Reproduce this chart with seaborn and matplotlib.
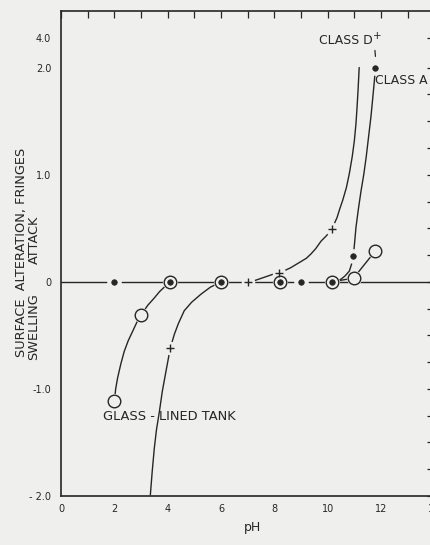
import numpy as np
import matplotlib
matplotlib.use("Agg")
import matplotlib.pyplot as plt
import seaborn as sns

# ---------------- data ----------------
# Class A: filled dots
classA_ph = [2.0, 4.1, 6.0, 8.2, 9.0, 10.16, 10.96, 11.79]
classA_val = [0.0, 0.0, 0.0, 0.0, 0.0, 0.0, 0.24, 2.0]
classA_curve_ph = [10.16, 10.35, 10.5, 10.65, 10.81, 10.9, 10.96, 11.01, 11.06, 11.15,
                   11.25, 11.35, 11.44, 11.53, 11.62, 11.69, 11.75, 11.79]
classA_curve_val = [0.0, 0.008, 0.025, 0.055, 0.10, 0.17, 0.24, 0.37, 0.51, 0.68,
                    0.85, 1.0, 1.16, 1.35, 1.54, 1.72, 1.88, 2.0]

# Class D: plus markers
classD_ph = [4.1, 7.0, 8.16, 10.15]
classD_val = [-0.615, 0.0, 0.08, 0.49]
classD_left_ph = [3.35, 3.42, 3.5, 3.58, 3.69, 3.8, 3.94, 4.1, 4.25, 4.4, 4.62,
                  4.9, 5.25, 5.6, 6.0]
classD_left_val = [-1.99, -1.77, -1.55, -1.38, -1.21, -1.02, -0.83, -0.615, -0.49,
                   -0.39, -0.27, -0.19, -0.115, -0.05, 0.0]
classD_right_ph = [7.0, 7.24, 7.94, 8.16, 8.6, 9.0, 9.2, 9.37, 9.55, 9.75, 9.95,
                   10.15, 10.25, 10.35, 10.45, 10.56, 10.7, 10.81, 10.92, 11.0,
                   11.06, 11.1, 11.14, 11.18]
classD_right_val = [0.0, 0.01, 0.07, 0.08, 0.13, 0.19, 0.22, 0.26, 0.31, 0.38, 0.43,
                    0.49, 0.545, 0.60, 0.68, 0.76, 0.88, 1.01, 1.17, 1.32,
                    1.48, 1.63, 1.8, 2.01]

# Glass-lined tank: open circles
glass_ph = [2.0, 3.0, 4.1, 6.0, 8.2, 10.16, 10.97, 11.79]
glass_val = [-1.115, -0.31, 0.0, 0.0, 0.0, 0.0, 0.035, 0.29]
glass_left_ph = [2.0, 2.05, 2.12, 2.24, 2.37, 2.52, 2.69, 2.84, 3.0, 3.25, 3.5,
                 3.7, 3.87, 4.0, 4.1]
glass_left_val = [-1.115, -1.0, -0.9, -0.77, -0.65, -0.55, -0.46, -0.38, -0.31,
                  -0.22, -0.15, -0.09, -0.05, -0.02, 0.0]
glass_right_ph = [10.16, 10.97, 11.79]
glass_right_val = [0.0, 0.035, 0.29]

baseline_ph = [0.0, 14.0]
baseline_val = [0.0, 0.0]

x_ticks = list(range(0, 15))
x_ticklabels = [str(v) if v % 2 == 0 else "" for v in x_ticks]
y_label_vals = [-2.0, -1.0, 0.0, 1.0, 2.0, 4.0]
y_label_text = ["- 2.0", "-1.0", "0", "1.0", "2.0", "4.0"]

# ---------------- style ----------------
sns.set_style("white")
plt.rcParams['font.family'] = ['DejaVu Sans']
BG = "#efefed"
INK = "#262626"

W, H = 431, 545
fig = plt.figure(figsize=(W / 100, H / 100), dpi=100, facecolor=BG)

def px(x, y):
    return x / W, 1 - y / H

ax = fig.add_axes([61 / W, 49 / H, 373.4 / W, 485 / H], facecolor=BG)

# broken (compressed) y scale above 2.0
K = 0.14
def fwd(y):
    y = np.asarray(y, dtype=float)
    return np.where(y <= 2, y, 2 + (y - 2) * K)
def inv(v):
    v = np.asarray(v, dtype=float)
    return np.where(v <= 2, v, 2 + (v - 2) / K)
ax.set_yscale("function", functions=(fwd, inv))
ax.set_xlim(0, 14)
ax.set_ylim(-2.0, 5.78)

# ---------------- lines ----------------
lkw = dict(color=INK, linewidth=1.0, sort=False, estimator=None, legend=False, ax=ax)
sns.lineplot(x=baseline_ph, y=baseline_val, **lkw)
sns.lineplot(x=classA_curve_ph, y=classA_curve_val, **lkw)
sns.lineplot(x=classD_left_ph, y=classD_left_val, **lkw)
sns.lineplot(x=classD_right_ph, y=classD_right_val, **lkw)
sns.lineplot(x=glass_left_ph, y=glass_left_val, **lkw)
sns.lineplot(x=glass_right_ph, y=glass_right_val, **lkw)
for ln in ax.lines:
    ln.set_zorder(2)
    ln.set_solid_joinstyle("round")

# small stroke above Class A end
ax.plot([11.79, 11.77], [2.75, 3.15], color=INK, lw=0.9, zorder=2)

# ---------------- markers with white gaps ----------------
def halo(xs, ys, s):
    sns.scatterplot(x=xs, y=ys, s=s, color=BG, edgecolor=BG, linewidth=0,
                    ax=ax, zorder=3, legend=False)

halo(classA_ph, classA_val, 110)
halo(classD_ph, classD_val, 95)
halo(glass_ph, glass_val, 120)

sns.scatterplot(x=glass_ph, y=glass_val, s=82, facecolor=BG, edgecolor=INK,
                linewidth=1.0, ax=ax, zorder=4, legend=False)
sns.scatterplot(x=classA_ph, y=classA_val, s=16, color=INK, edgecolor=INK,
                linewidth=0.5, ax=ax, zorder=5, legend=False)
sns.scatterplot(x=classD_ph, y=classD_val, s=38, marker="+", color=INK,
                linewidth=1.0, ax=ax, zorder=5, legend=False)

# ---------------- axes styling ----------------
ax.set_xticks(x_ticks)
ax.set_xticklabels(x_ticklabels)
minor_y = [v for v in np.arange(-2.0, 2.01, 0.25)] + [4.0]
ax.set_yticks(minor_y)
ax.set_yticklabels([y_label_text[y_label_vals.index(v)] if v in y_label_vals else ""
                    for v in minor_y])
ax.tick_params(axis="both", which="both", direction="in", length=4.7, width=0.9,
               color=INK, labelcolor=INK, labelsize=7, top=True, right=True)
ax.tick_params(axis="x", pad=6)
ax.tick_params(axis="y", pad=7)
for sp in ax.spines.values():
    sp.set_color(INK)
    sp.set_linewidth(1.2)
ax.set_xlabel("")
ax.set_ylabel("")

# ---------------- texts ----------------
tk = dict(color=INK, fontsize=8.9)
fig.text(*px(346, 41), "CLASS D", ha="center", va="center", **tk)
fig.text(*px(377, 36), "+", ha="center", va="center", color=INK, fontsize=7.5)
fig.text(*px(375, 81), "CLASS A", ha="left", va="center", **tk)
fig.text(*px(103, 417), "GLASS - LINED TANK", ha="left", va="center",
         color=INK, fontsize=9.4)
fig.text(*px(253, 527), "pH", ha="center", va="center", color=INK, fontsize=9)

ylk = dict(rotation=90, ha="center", va="center", color=INK, fontsize=9.3)
fig.text(*px(22, 252), "SURFACE  ALTERATION, FRINGES", **ylk)
fig.text(*px(34, 240), "ATTACK", **ylk)
fig.text(*px(34, 327), "SWELLING", **ylk)

fig.savefig("out.png", dpi=100, facecolor=BG)
